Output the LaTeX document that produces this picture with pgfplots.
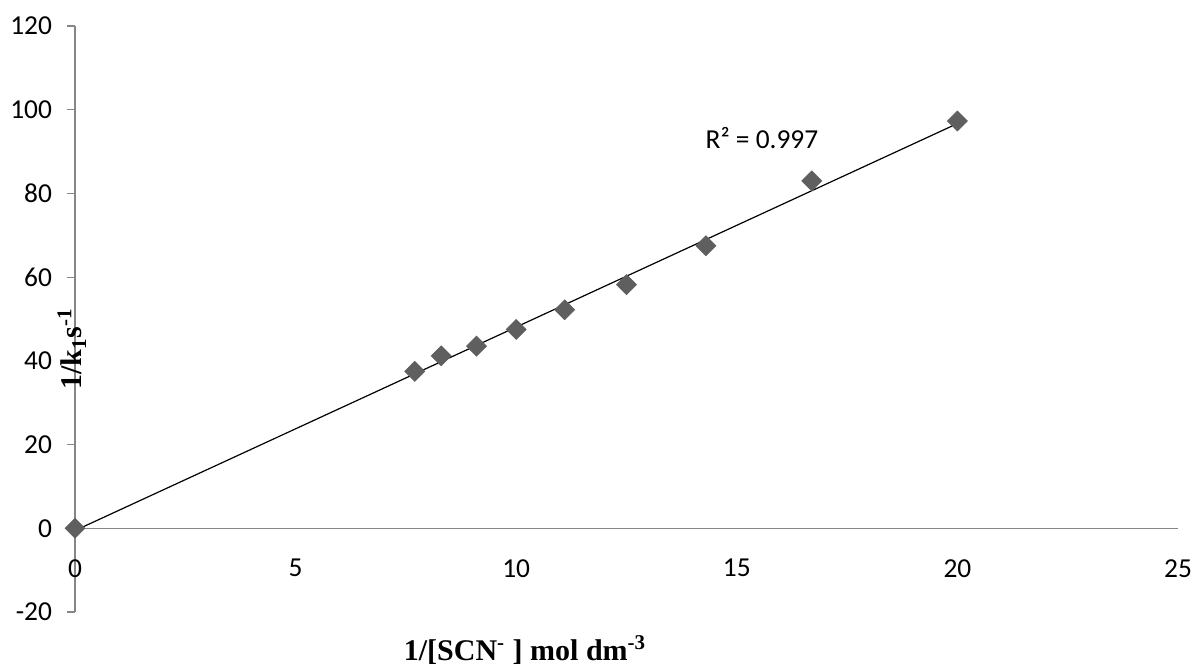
\documentclass[border=0pt]{standalone}
\usepackage{pgfplots}
\usepackage{pgfplotstable}
\pgfplotsset{compat=1.18}
\usepackage{fontspec}
\setmainfont{Carlito}
\newfontfamily\tnr{Liberation Serif}
\definecolor{mk}{HTML}{5F5F5F}
\definecolor{ax}{HTML}{868686}
\pgfplotstableread{
x y
0 0
7.7 37.5
8.3 41.2
9.1 43.5
10 47.5
11.1 52.2
12.5 58.2
14.3 67.5
16.7 83.0
20 97.3
}\data
\begin{document}
\begin{tikzpicture}
\begin{axis}[
  scale only axis,
  width=551.5pt, height=293pt,
  xmin=0, xmax=25, ymin=-20, ymax=120,
  axis x line=middle, axis y line=left,
  hide obscured x ticks=false,
  axis line style={ax, line width=0.6pt, -},
  xtick={0,5,...,25}, ytick={-20,0,...,120},
  x tick style={draw=none},
  y tick style={ax, line width=0.6pt},
  tick align=outside, major tick length=4pt,
  tick label style={font=\fontsize{13.7}{16}\selectfont},
  /pgf/number format/assume math mode=true,
  xticklabel style={yshift=-8pt},
  yticklabel style={xshift=-4pt},
  clip=false,
]
\addplot[only marks, mark=square*, mark size=3.5pt, mark options={fill=mk, draw=mk, rotate=45}] table[x=x,y=y] {\data};
\addplot[black, line width=0.6pt, no marks] table[x=x, y={create col/linear regression={y=y}}] {\data};
\node[font=\fontsize{13.7}{16}\selectfont] at (axis cs:15.57,93.2) {R² = 0.997};
\node[rotate=90, font=\tnr\bfseries\fontsize{15}{18}\selectfont] at (axis cs:-0.07,42.8) {1/k\textsubscript{1}s\textsuperscript{-1}};
\node[font=\tnr\bfseries\fontsize{15}{18}\selectfont] at (axis cs:10.2,-29.1) {1/[SCN\textsuperscript{-} ] mol dm\textsuperscript{-3}};
\end{axis}
\pgfresetboundingbox
\path (current axis.south west)++(-37.5pt,-27.5pt) coordinate (bl);
\path (current axis.north east)++(6.5pt,13pt) coordinate (tr);
\path[use as bounding box] (bl) rectangle (tr);
\end{tikzpicture}
\end{document}
